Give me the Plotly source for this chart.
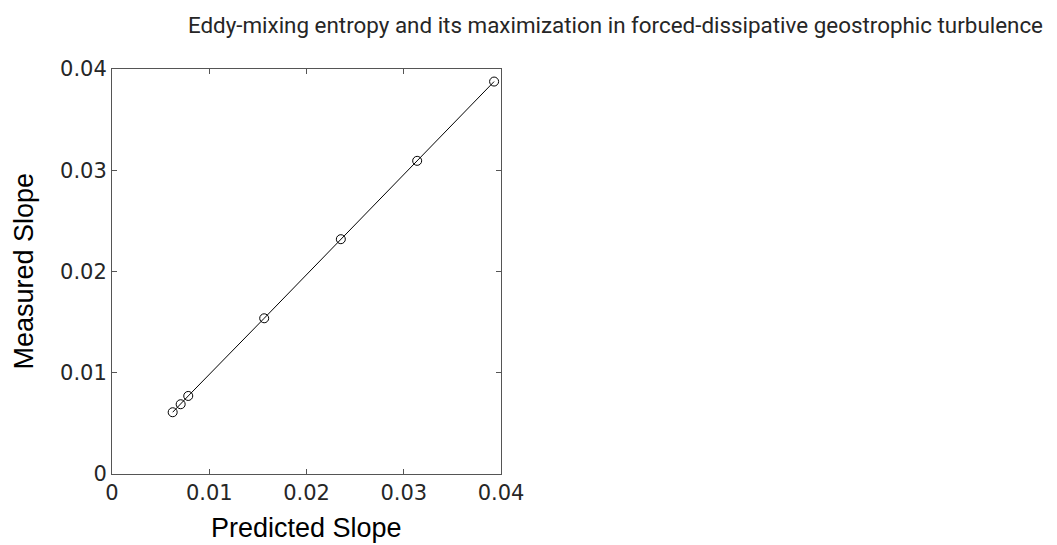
import plotly.graph_objects as go

# Predicted vs measured slopes
predicted = [0.00624, 0.00706, 0.00784, 0.01565, 0.02353, 0.03138, 0.03929]
measured = [0.00610, 0.00689, 0.00771, 0.01538, 0.02319, 0.03093, 0.03876]

tick_vals = [0, 0.01, 0.02, 0.03, 0.04]
tick_text = ["0", "0.01", "0.02", "0.03", "0.04"]

fig = go.Figure()
fig.add_trace(go.Scatter(
    x=predicted, y=measured, mode="lines+markers",
    line=dict(color="black", width=1),
    marker=dict(symbol="circle-open", size=9, color="black", line=dict(width=1)),
    showlegend=False,
))

axis_style = dict(
    range=[0, 0.04], tickvals=tick_vals, ticktext=tick_text,
    ticks="inside", ticklen=5, tickcolor="#555555",
    showline=True, linecolor="#555555", linewidth=1, mirror="ticks",
    showgrid=False, zeroline=False,
    tickfont=dict(family="DejaVu Sans", size=21, color="#262626"),
)

fig.update_layout(
    width=1057, height=545,
    margin=dict(l=112, r=556, t=69, b=71),
    paper_bgcolor="white", plot_bgcolor="white",
    xaxis=axis_style, yaxis=axis_style,
    title=dict(
        text="Eddy-mixing entropy and its maximization in forced-dissipative geostrophic turbulence",
        xref="container", yref="container",
        x=1043 / 1057, xanchor="right", y=1 - 25 / 545, yanchor="middle",
        font=dict(family="Roboto", size=22.4, color="#262626"),
    ),
    annotations=[
        dict(text="Predicted Slope", xref="paper", yref="paper", x=0.5, y=-54 / 405,
             xanchor="center", yanchor="middle", showarrow=False,
             font=dict(family="Liberation Sans", size=27, color="black")),
        dict(text="Measured Slope", xref="paper", yref="paper", x=-89 / 389, y=0.5,
             xanchor="center", yanchor="middle", showarrow=False, textangle=-90,
             font=dict(family="Liberation Sans", size=27, color="black")),
    ],
)

fig.write_html("out.html")
